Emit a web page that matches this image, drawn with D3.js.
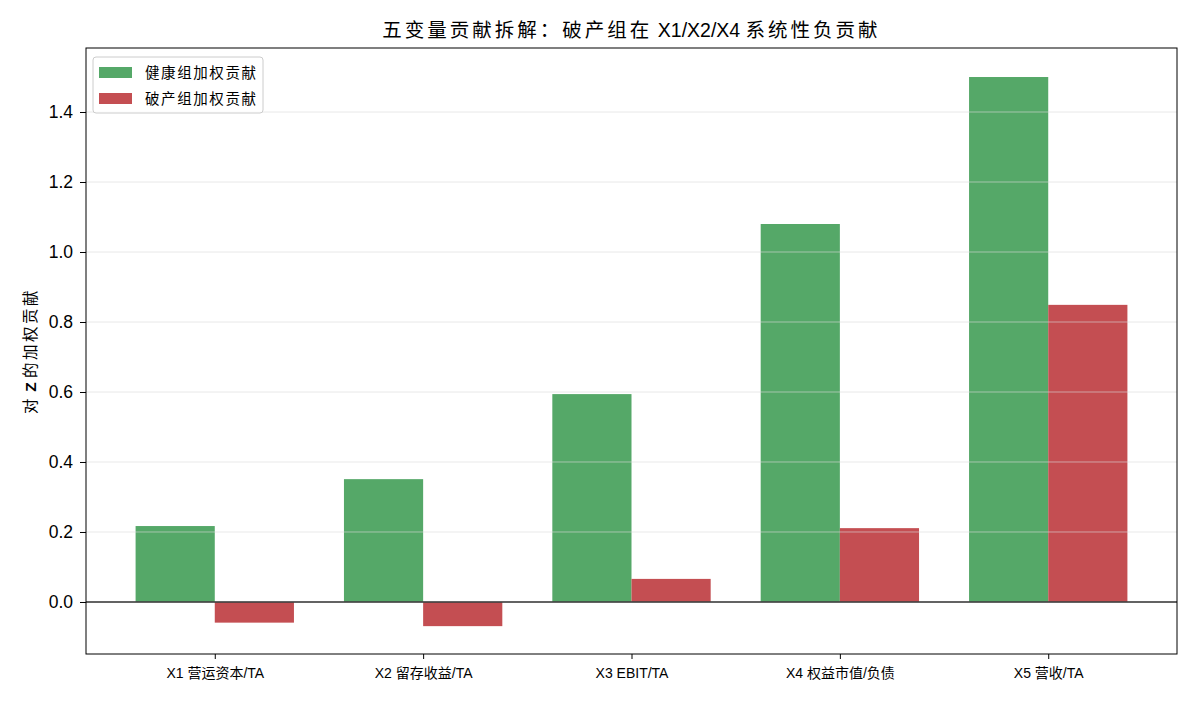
<!DOCTYPE html>
<html><head><meta charset="utf-8">
<script src="https://cdn.jsdelivr.net/npm/d3@7"></script>
<style>body{margin:0;background:#fff}svg{display:block}text{font-family:"Liberation Sans","Noto Sans CJK SC",Arial,sans-serif;fill:#000}</style>
</head><body><svg id="c" width="1196" height="702"></svg>
<script>
const categories = ["X1 营运资本/TA","X2 留存收益/TA","X3 EBIT/TA","X4 权益市值/负债","X5 营收/TA"];
const healthy = [0.217, 0.351, 0.594, 1.080, 1.500];
const bankrupt = [-0.059, -0.069, 0.066, 0.211, 0.849];
const seriesNames = ["健康组加权贡献","破产组加权贡献"];
const colors = ["#55a868","#c44e52"];
const yTicks = [0.0,0.2,0.4,0.6,0.8,1.0,1.2,1.4];
const titleParts = ["五变量贡献拆解：破产组在", " X1/X2/X4 ", "系统性负贡献"];
const yLabelParts = ["对", " Z ", "的加权贡献"];

const svg = d3.select("#c");
const L=86,R=1177,T=48,B=654;
const W=0.38;
const x = d3.scaleLinear().domain([-0.618, 4.618]).range([L,R]);
const y = d3.scaleLinear().domain([-0.1486, 1.5829]).range([B,T]);
const isCJK = s => /[\u3000-\u9fff\uff00-\uffef]/.test(s);

// bars
const g = svg.append("g");
[healthy,bankrupt].forEach((arr,s)=>{
  g.selectAll(null).data(arr).enter().append("rect")
   .attr("x",(d,i)=>x(i + (s===0?-W:0)))
   .attr("width",x(W)-x(0))
   .attr("y",d=>y(Math.max(0,d)))
   .attr("height",d=>Math.abs(y(d)-y(0)))
   .attr("fill",colors[s]);
});
// grid above bars
svg.append("g").selectAll("line").data(yTicks).enter().append("line")
  .attr("x1",L).attr("x2",R).attr("y1",d=>y(d)).attr("y2",d=>y(d))
  .attr("stroke","#d8d8d8").attr("stroke-opacity",0.6).attr("stroke-width",1);
// zero line
svg.append("line").attr("x1",L).attr("x2",R).attr("y1",y(0)).attr("y2",y(0))
  .attr("stroke","#333").attr("stroke-width",1.3);
// frame
svg.append("rect").attr("x",L).attr("y",T).attr("width",R-L).attr("height",B-T)
  .attr("fill","none").attr("stroke","#000").attr("stroke-width",1);
// y axis
const ya = svg.append("g").attr("transform",`translate(${L},0)`)
  .call(d3.axisLeft(y).tickValues(yTicks).tickFormat(d3.format(".1f")).tickSize(6).tickPadding(7));
ya.select(".domain").remove();
ya.selectAll("text").attr("font-size",17.5).style("font-family","'Liberation Sans',Arial,sans-serif");
ya.selectAll("line").attr("stroke","#000");
// x axis
const xa = svg.append("g").attr("transform",`translate(0,${B})`)
  .call(d3.axisBottom(x).tickValues(d3.range(categories.length)).tickFormat(i=>categories[i]).tickSize(5).tickPadding(9.5));
xa.select(".domain").remove();
xa.selectAll("text").attr("font-size",14);
xa.selectAll("line").attr("stroke","#000");
// title
const tt = svg.append("text").attr("x",(L+R)/2).attr("y",37).attr("text-anchor","middle").attr("font-size",19.5);
titleParts.forEach(p=>{
  tt.append("tspan").attr("letter-spacing",isCJK(p)?3:0).text(p);
});
// y label
const yl = svg.append("text").attr("transform",`translate(36,${(T+B)/2}) rotate(-90)`).attr("text-anchor","middle").attr("font-size",15.5);
yLabelParts.forEach(p=>{
  yl.append("tspan").attr("letter-spacing",isCJK(p)?2.5:0).attr("font-weight",isCJK(p)?"normal":"bold").text(p);
});
// legend
const lg = svg.append("g");
lg.append("rect").attr("x",93).attr("y",57).attr("width",170).attr("height",56).attr("rx",3)
  .attr("fill","#fff").attr("fill-opacity",0.8).attr("stroke","#ccc");
seriesNames.forEach((n,i)=>{
  lg.append("rect").attr("x",99).attr("y",67+i*26).attr("width",33).attr("height",11).attr("fill",colors[i]);
  lg.append("text").attr("x",145).attr("y",78+i*26).attr("font-size",14.5)
    .attr("textLength",111).attr("lengthAdjust","spacing").text(n);
});
</script></body></html>
